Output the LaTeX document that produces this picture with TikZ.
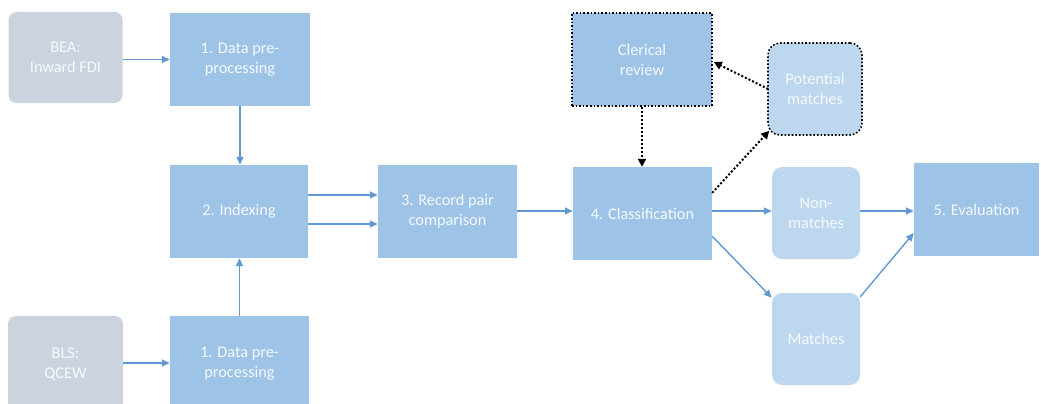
\documentclass[tikz,border=0pt]{standalone}
\usepackage{fontspec}
\setmainfont{Carlito}
\usetikzlibrary{arrows.meta,calc}
\definecolor{mainblue}{RGB}{157,195,230}
\definecolor{lightblue}{RGB}{189,215,238}
\definecolor{srcgray}{RGB}{203,212,222}
\definecolor{arrowblue}{RGB}{98,154,208}
\definecolor{txt}{RGB}{246,249,253}
\tikzset{
  box/.style={draw=none, fill=mainblue, text=txt, align=center, inner sep=0pt,
    font=\fontsize{16.3}{20}\selectfont},
  srcbox/.style={box, fill=srcgray, rounded corners=8pt},
  resbox/.style={box, fill=lightblue, rounded corners=10pt},
  dotbox/.style={draw=black, dotted, line width=1.6pt},
  flow/.style={draw=arrowblue, line width=1.4pt, -{Triangle[length=8pt,width=7pt]}},
  dotflow/.style={draw=black, dotted, line width=2pt, -{Triangle[length=8pt,width=8pt]}},
}
\begin{document}
\begin{tikzpicture}[x=1pt,y=-1pt]
\useasboundingbox (0,0) rectangle (1041,404);
\clip (0,0) rectangle (1041,404);
\fill[white] (0,0) rectangle (1041,404);
% nodes
\node[srcbox, minimum width=114pt, minimum height=91pt] (bea) at (65.5,57.5) {BEA:\\Inward FDI};
\node[box, minimum width=140pt, minimum height=93pt] (dp1) at (240,59.5) {1. Data pre-\\processing};
\node[box, minimum width=138pt, minimum height=93pt] (idx) at (239,211.5) {2. Indexing};
\node[box, minimum width=139pt, minimum height=93pt] (rpc) at (447.5,211.5) {3. Record pair\\comparison};
\node[box, minimum width=139pt, minimum height=93pt] (cls) at (642.5,213.5) {4. Classification};
\node[box, dotbox, minimum width=140pt, minimum height=93pt] (cler) at (642,59.5) {Clerical\\review};
\node[resbox, dotbox, rounded corners=12pt, minimum width=94pt, minimum height=92pt] (pot) at (815,89) {Potential\\matches};
\node[resbox, minimum width=88pt, minimum height=92pt] (non) at (816,213) {Non-\\matches};
\node[resbox, minimum width=88pt, minimum height=92pt] (mat) at (816,339) {Matches};
\node[box, minimum width=125pt, minimum height=93pt] (eva) at (976.5,209.5) {5. Evaluation};
\node[srcbox, minimum width=115pt, minimum height=96pt] (bls) at (65.5,364) {BLS:\\QCEW};
\node[box, minimum width=139pt, minimum height=96pt] (dp2) at (239.5,364) {1. Data pre-\\processing};
% connectors
\draw[flow] (bea.east |- dp1.west) -- (dp1.west);
\draw[flow] (dp1.south) -- (dp1.south |- idx.north);
\draw[flow] (dp2.north) -- (dp2.north |- idx.south);
\draw[flow] ($(bls.east)+(0,-1)$) -- ($(dp2.west)+(0,-1)$);
\draw[flow] ($(idx.east)+(0,-16.5)$) -- ($(rpc.west)+(0,-16.5)$);
\draw[flow] ($(idx.east)+(0,12.5)$) -- ($(rpc.west)+(0,12.5)$);
\draw[flow] ($(rpc.east)+(0,-0.5)$) -- ($(rpc.east -| cls.west)+(0,-0.5)$);
\draw[flow] ($(cls.east)+(0,-2.5)$) -- ($(cls.east -| non.west)+(0,-2.5)$);
\draw[flow] ($(non.east)+(0,-2)$) -- ($(non.east -| eva.west)+(0,-2)$);
\draw[flow] ($(cls.south east)+(0,-24)$) -- ($(mat.north west)+(0,5)$);
\draw[flow] ($(mat.north east)+(0,4)$) -- ($(eva.west)+(0,23.5)$);
\draw[dotflow] (cler.south) -- (cler.south |- cls.north);
\draw[dotflow] ($(pot.west)+(1,0)$) -- ($(cler.east)+(1,2.5)$);
\draw[dotflow] ($(cls.north east)+(0,26)$) -- ($(pot.south west)+(2,-5)$);
\end{tikzpicture}
\end{document}
